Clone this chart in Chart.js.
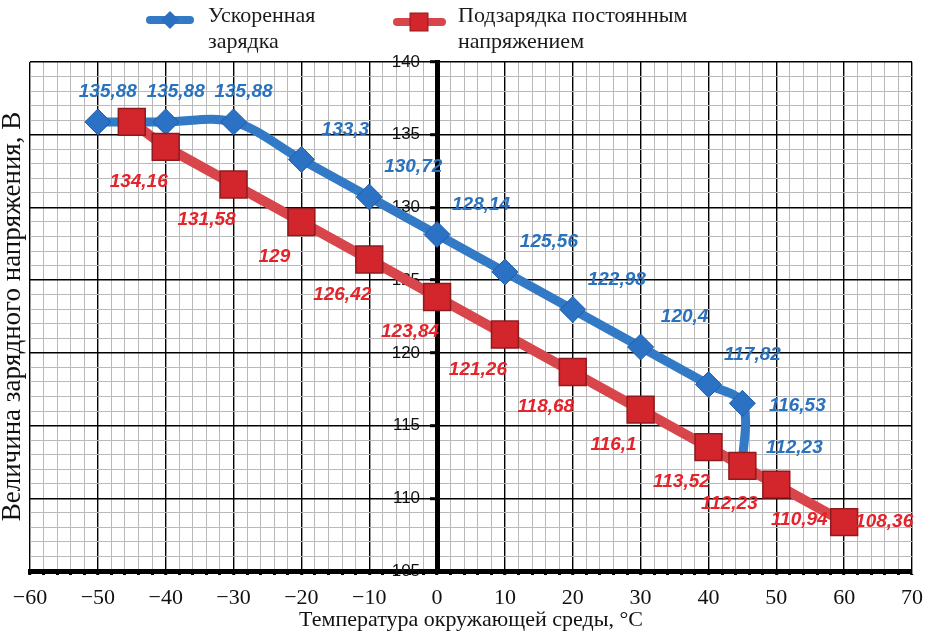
<!DOCTYPE html>
<html>
<head>
<meta charset="utf-8">
<script src="https://cdn.jsdelivr.net/npm/chart.js@4.4.1/dist/chart.umd.min.js"></script>
<style>
html, body { margin: 0; padding: 0; background: #fff; }
#wrap { width: 933px; height: 632px; }
</style>
</head>
<body>
<div id="wrap"><canvas id="grafico" width="933" height="632"></canvas></div>
<script>
// Ускоренная зарядка
const tempUskor = [-50, -40, -30, -20, -10, 0, 10, 20, 30, 40, 45, 45]
const naprUskor = [135.88, 135.88, 135.88, 133.3, 130.72, 128.14, 125.56, 122.98, 120.4, 117.82, 116.53, 112.23]

// Подзарядка постоянным напряжением
const tempPodz = [-45, -40, -30, -20, -10, 0, 10, 20, 30, 40, 45, 50, 60]
const naprPodz = [135.88, 134.16, 131.58, 129, 126.42, 123.84, 121.26, 118.68, 116.1, 113.52, 112.23, 110.94, 108.36]

const nomesSeries = [['Ускоренная', 'зарядка'], ['Подзарядка постоянным', 'напряжением']]

// rótulos dos eixos
const ticksX = [-60, -50, -40, -30, -20, -10, 0, 10, 20, 30, 40, 50, 60, 70]
const ticksY = [105, 110, 115, 120, 125, 130, 135, 140]

const serif = '"Liberation Serif", "Times New Roman", serif'
const sans = '"Liberation Sans", Arial, sans-serif'

const azul = '#3279C6'
const vermelho = '#D8464B'

function temTick(lista, v) {
    return lista.some(t => Math.abs(t - v) < 1e-6)
}
function fmtNum(v) {
    return String(v).replace('.', ',')
}
function fmtX(v) {
    return v < 0 ? '\u2212' + Math.abs(v) : String(v)
}

// grade fina + grade principal
function gradeCor(lista) {
    return ctx => temTick(lista, ctx.tick.value) ? '#000' : '#b9b9b9'
}
function gradeLargura(lista) {
    return ctx => temTick(lista, ctx.tick.value) ? 1.4 : 1
}

// rótulos dos pontos (posição relativa ao marcador)
function deslocAzul(i) {
    if (i <= 2) return [10, -30]
    if (i == 10) return [55, 2]
    if (i == 11) return [52, -18]
    return [44, -30]
}
function deslocVermelho(i) {
    if (i == 0) return null
    if (i == 10) return [-13, 38]
    if (i == 11) return [23, 35]
    if (i == 12) return [40, 0]
    return [-27, 35]
}

const rotulosPlugin = {
    id: 'rotulos',
    afterDatasetsDraw(chart) {
        const c = chart.ctx
        c.save()
        c.font = 'italic bold 19px ' + sans
        c.textAlign = 'center'
        c.textBaseline = 'middle'
        chart.data.datasets.forEach((ds, d) => {
            const meta = chart.getDatasetMeta(d)
            meta.data.forEach((pt, i) => {
                const desl = ds.desloc(i)
                if (!desl) return
                c.fillStyle = ds.corRotulo
                c.fillText(fmtNum(ds.data[i].y), pt.x + desl[0], pt.y + desl[1])
            })
        })
        c.restore()
    }
}

// legenda desenhada no topo (texto em duas linhas)
const legendaPlugin = {
    id: 'legendaTopo',
    afterDraw(chart) {
        const c = chart.ctx
        c.save()
        c.lineCap = 'round'

        // azul
        c.strokeStyle = azul
        c.lineWidth = 8
        c.beginPath(); c.moveTo(150, 20); c.lineTo(190, 20); c.stroke()
        c.fillStyle = '#2A6FC0'
        c.beginPath()
        c.moveTo(170, 11); c.lineTo(179, 20); c.lineTo(170, 29); c.lineTo(161, 20)
        c.closePath(); c.fill()

        // vermelho
        c.strokeStyle = vermelho
        c.beginPath(); c.moveTo(397, 22); c.lineTo(442, 22); c.stroke()
        c.fillStyle = '#D3262C'
        c.fillRect(410, 13, 18, 18)
        c.strokeStyle = '#8E1A1E'
        c.lineWidth = 1
        c.strokeRect(410, 13, 18, 18)

        c.fillStyle = '#1a1a1a'
        c.font = '22px ' + serif
        c.textBaseline = 'middle'
        c.fillText(nomesSeries[0][0], 208, 16)
        c.fillText(nomesSeries[0][1], 208, 42)
        c.fillText(nomesSeries[1][0], 458, 16)
        c.fillText(nomesSeries[1][1], 458, 42)
        c.restore()
    }
}

const ctxGraf = document.getElementById('grafico').getContext('2d')
const grafico = new Chart(ctxGraf, {
    type: 'line',
    data: {
        datasets: [{
            label: nomesSeries[0].join(' '),
            data: tempUskor.map((t, i) => ({ x: t, y: naprUskor[i] })),
            borderColor: azul,
            borderWidth: 9,
            borderCapStyle: 'round',
            borderJoinStyle: 'round',
            backgroundColor: '#2C72C4',
            pointStyle: 'rectRot',
            pointRadius: 13,
            pointBorderColor: '#1E5EA8',
            pointBorderWidth: 1,
            tension: 0.35,
            order: 1,
            corRotulo: '#2A72BD',
            desloc: deslocAzul
        }, {
            label: nomesSeries[1].join(' '),
            data: tempPodz.map((t, i) => ({ x: t, y: naprPodz[i] })),
            borderColor: vermelho,
            borderWidth: 10,
            backgroundColor: '#D3262C',
            pointStyle: 'rect',
            pointRadius: 19,
            pointBorderColor: '#8E1A1E',
            pointBorderWidth: 1.5,
            tension: 0,
            order: 0,
            corRotulo: '#E4232A',
            desloc: deslocVermelho
        }]
    },
    options: {
        responsive: false,
        animation: false,
        layout: { padding: { top: 62, right: 21, left: -3, bottom: -1 } },
        plugins: {
            legend: { display: false },
            tooltip: { enabled: false }
        },
        scales: {
            x: {
                type: 'linear',
                min: ticksX[0],
                max: ticksX[ticksX.length - 1],
                afterFit: s => { s.height = 62 },
                ticks: {
                    stepSize: 2,
                    autoSkip: false,
                    maxRotation: 0,
                    callback: v => temTick(ticksX, v) ? fmtX(v) : '',
                    font: { family: serif, size: 22 },
                    color: '#111',
                    padding: 10
                },
                grid: {
                    color: gradeCor(ticksX),
                    lineWidth: gradeLargura(ticksX),
                    tickLength: 4,
                    tickColor: '#000',
                    tickWidth: 3
                },
                border: { color: '#000', width: 5 },
                title: {
                    display: true,
                    text: 'Температура окружающей среды, °C',
                    font: { family: serif, size: 22 },
                    color: '#111',
                    padding: 0
                }
            },
            y: {
                type: 'linear',
                position: { x: 0 },
                min: ticksY[0],
                max: ticksY[ticksY.length - 1],
                ticks: {
                    stepSize: 1,
                    autoSkip: false,
                    // espaços finais afastam o número do eixo central
                    callback: v => temTick(ticksY, v) ? v + '\u2002\u2002' : '',
                    font: { family: sans, size: 17 },
                    color: '#111'
                },
                grid: {
                    color: gradeCor(ticksY),
                    lineWidth: gradeLargura(ticksY),
                    tickLength: 5,
                    tickColor: ctx => temTick(ticksY, ctx.tick.value) ? '#000' : 'rgba(0,0,0,0)',
                    tickWidth: 3
                },
                border: { color: '#000', width: 5 }
            },
            yTitulo: {
                type: 'linear',
                position: 'left',
                min: ticksY[0],
                max: ticksY[ticksY.length - 1],
                afterFit: s => { s.width = 33 },
                ticks: { display: false },
                grid: { display: false },
                border: { display: false },
                title: {
                    display: true,
                    text: 'Величина зарядного напряжения, В',
                    font: { family: serif, size: 27 },
                    color: '#111',
                    padding: 0
                }
            }
        }
    },
    plugins: [rotulosPlugin, legendaPlugin]
})
</script>
</body>
</html>
